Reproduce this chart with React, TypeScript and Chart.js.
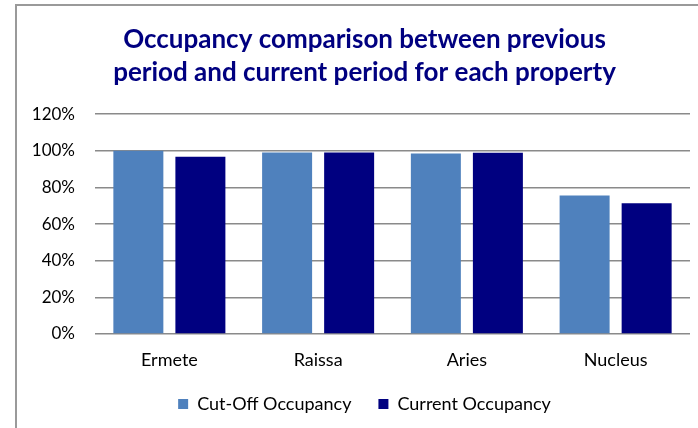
import React, { useEffect, useRef } from "react";
import { Chart, registerables } from "chart.js";

Chart.register(...registerables);

const categories = ["Ermete", "Raissa", "Aries", "Nucleus"];
const cutOffOccupancy = [1.0, 0.99, 0.985, 0.755];
const currentOccupancy = [0.967, 0.99, 0.989, 0.713];
const seriesNames = ["Cut-Off Occupancy", "Current Occupancy"];
const titleLines = [
  "Occupancy comparison between previous",
  "period and current period for each property",
];

const FONT = "Lato, 'Noto Sans', sans-serif";

export default function App() {
  const ref = useRef<HTMLCanvasElement | null>(null);

  useEffect(() => {
    if (!ref.current) return;
    const chart = new Chart(ref.current, {
      type: "bar",
      data: {
        labels: categories,
        datasets: [
          {
            label: seriesNames[0],
            data: cutOffOccupancy,
            backgroundColor: "#4F81BD",
            borderWidth: 0,
            categoryPercentage: 0.834,
            barPercentage: 0.806,
          },
          {
            label: seriesNames[1],
            data: currentOccupancy,
            backgroundColor: "#000080",
            borderWidth: 0,
            categoryPercentage: 0.834,
            barPercentage: 0.806,
          },
        ],
      },
      options: {
        responsive: false,
        animation: false,
        layout: { padding: { left: 39, right: 8, top: 0, bottom: 5 } },
        plugins: {
          title: {
            display: true,
            text: titleLines,
            color: "#000080",
            font: { family: FONT, size: 26, weight: "bold", lineHeight: 1.27 },
            padding: { top: 23, bottom: 25 },
          },
          legend: {
            position: "bottom",
            labels: {
              boxWidth: 10,
              boxHeight: 10,
              color: "#000",
              font: { family: FONT, size: 18 },
              padding: 27,
            },
          },
          tooltip: { enabled: false },
        },
        scales: {
          x: {
            afterFit: (s: any) => {
              s.height = 34;
            },
            grid: { display: false, drawTicks: false },
            border: { display: false },
            ticks: { color: "#000", font: { family: FONT, size: 18 }, padding: 15 },
          },
          y: {
            min: 0,
            max: 1.2,
            afterFit: (s: any) => {
              s.width = 56;
              s._computeLabelArea = () => undefined;
            },
            grid: { color: "#8a8a8a", lineWidth: 1.5, drawTicks: false },
            border: { display: false },
            ticks: {
              stepSize: 0.2,
              color: "#000",
              padding: 20,
              font: { family: FONT, size: 17 },
              callback: (v: any) => Math.round(Number(v) * 100) + "%",
            },
          },
        },
      },
    });
    return () => chart.destroy();
  }, []);

  return (
    <div style={{ position: "fixed", left: 0, top: 0, width: 698, height: 428, background: "#fff", overflow: "hidden" }}>
      <div
        style={{
          position: "absolute",
          left: 15,
          top: 4,
          width: 720,
          height: 460,
          borderLeft: "2px solid #9a9a9a",
          borderTop: "2px solid #9a9a9a",
        }}
      />
      <canvas ref={ref} width={698} height={428} style={{ position: "absolute", left: 0, top: 0 }} />
    </div>
  );
}
